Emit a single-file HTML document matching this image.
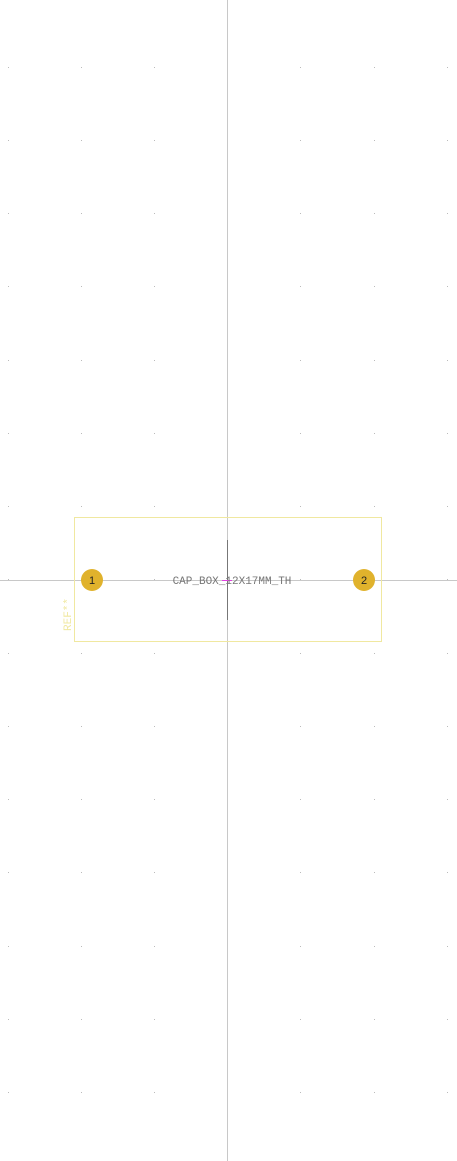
<!DOCTYPE html>
<html><head><meta charset="utf-8"><style>
html,body{margin:0;padding:0;background:#fff;width:457px;height:1161px;overflow:hidden}
</style></head><body>
<svg width="457" height="1161" viewBox="0 0 457 1161">
<g id="grid"></g>
<line x1="227.5" y1="0" x2="227.5" y2="1161" stroke="#c8c8c8" stroke-width="1"/>
<line x1="0" y1="580.5" x2="457" y2="580.5" stroke="#c8c8c8" stroke-width="1"/>
<rect x="74.5" y="517.5" width="307" height="124" fill="none" stroke="#f0e8a0" stroke-width="1"/>
<line x1="227.5" y1="540" x2="227.5" y2="620" stroke="#777" stroke-width="1"/>
<line x1="222" y1="580.5" x2="232" y2="580.5" stroke="#e040e0" stroke-width="1"/>
<circle cx="92" cy="580" r="11" fill="#e0b22c"/>
<circle cx="364" cy="580" r="11" fill="#e0b22c"/>
<text x="92" y="584" font-family="Liberation Sans, sans-serif" font-size="11" fill="#222" text-anchor="middle">1</text>
<text x="364" y="584" font-family="Liberation Sans, sans-serif" font-size="11" fill="#222" text-anchor="middle">2</text>
<text x="232" y="584" font-family="Liberation Mono, monospace" font-size="11" fill="#777" text-anchor="middle">CAP_BOX_12X17MM_TH</text>
<text transform="translate(71,631) rotate(-90)" font-family="Liberation Mono, monospace" font-size="11" fill="#f0e8a0">REF**</text>
</svg>
<script>
const xs=[8,81,154,227,300,374,447];
const ys=[67,140,213,286,360,433,506,579,653,726,799,872,946,1019,1092];
const g=document.getElementById('grid');
for(const y of ys)for(const x of xs){
const r=document.createElementNS('http://www.w3.org/2000/svg','rect');
r.setAttribute('x',x);r.setAttribute('y',y);r.setAttribute('width',1);r.setAttribute('height',1);r.setAttribute('fill','#bbb');


g.appendChild(r);}
</script>
</body></html>
